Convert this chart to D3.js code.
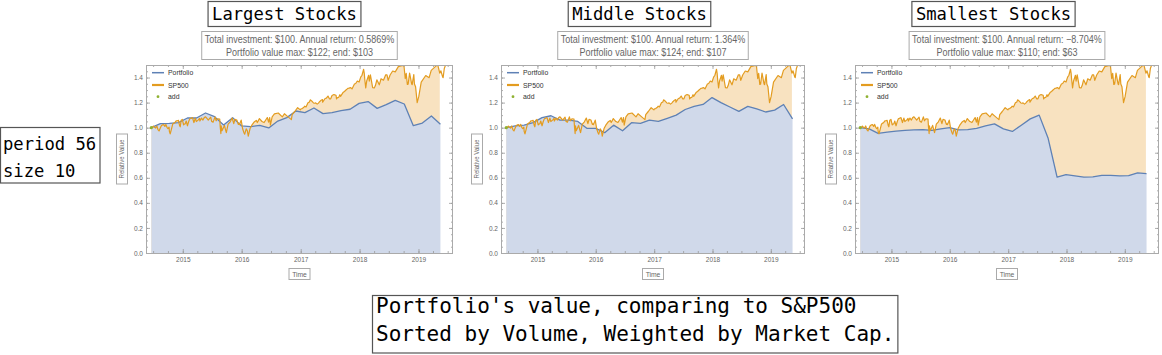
<!DOCTYPE html>
<html><head><meta charset="utf-8">
<script src="https://cdn.jsdelivr.net/npm/d3@7"></script>
<style>body{margin:0;background:#fff;} svg{display:block}</style>
</head><body><svg id="c" width="1162" height="355"></svg>
<script>
const panelTitles = ["Largest Stocks", "Middle Stocks", "Smallest Stocks"];
const subtitleLine1 = ["Total investment: $100. Annual return: 0.5869%", "Total investment: $100. Annual return: 1.364%", "Total investment: $100. Annual return: \u22128.704%"];
const subtitleLine2 = ["Portfolio value max: $122; end: $103", "Portfolio value max: $124; end: $107", "Portfolio value max: $110; end: $63"];
const sideLabel = ["period 56", "size 10"];
const captionLines = ["Portfolio's value, comparing to S&P500", "Sorted by Volume, Weighted by Market Cap."];
const legendLabels = ["Portfolio", "SP500", "add"];
const yTicks = [0, 0.2, 0.4, 0.6, 0.8, 1.0, 1.2, 1.4];
const yearTicks = ["2015", "2016", "2017", "2018", "2019"];

const portfolioDates = ["2014-06-20","2014-08-15","2014-10-10","2014-12-05","2015-01-30","2015-03-27","2015-05-22","2015-07-17","2015-09-11","2015-11-06","2016-01-01","2016-02-26","2016-04-22","2016-06-17","2016-08-12","2016-10-07","2016-12-02","2017-01-27","2017-03-24","2017-05-19","2017-07-14","2017-09-08","2017-11-03","2017-12-29","2018-02-23","2018-04-20","2018-06-15","2018-08-10","2018-10-05","2018-11-30","2019-01-25","2019-03-22","2019-05-17"];
const largestValues = [1.0,1.032,1.035,1.04,1.077,1.077,1.117,1.088,1.022,1.080,1.014,1.008,1.019,0.998,1.053,1.080,1.133,1.120,1.157,1.112,1.120,1.136,1.147,1.194,1.208,1.154,1.184,1.218,1.189,1.016,1.037,1.093,1.027];
const middleValues = [1.0,1.015,1.02,1.04,1.08,1.095,1.06,1.06,1.05,0.995,0.995,0.96,1.02,0.975,1.04,1.035,1.06,1.05,1.075,1.10,1.145,1.17,1.185,1.24,1.20,1.165,1.13,1.17,1.15,1.125,1.14,1.185,1.07];
const smallestValues = [1.0,0.99,0.955,0.965,0.972,0.978,0.983,0.985,0.978,0.99,1.0,0.982,0.985,0.995,1.015,1.03,0.99,0.97,1.02,1.07,1.10,0.915,0.605,0.625,0.615,0.605,0.607,0.62,0.62,0.615,0.617,0.64,0.633];

const spDates = ["2014-06-20","2014-06-27","2014-07-03","2014-07-10","2014-07-17","2014-07-24","2014-07-31","2014-08-07","2014-08-14","2014-08-21","2014-08-29","2014-09-05","2014-09-12","2014-09-18","2014-09-25","2014-10-01","2014-10-08","2014-10-10","2014-10-15","2014-10-22","2014-10-31","2014-11-07","2014-11-13","2014-11-21","2014-11-28","2014-12-05","2014-12-12","2014-12-16","2014-12-22","2014-12-29",
"2015-01-06","2015-01-09","2015-01-16","2015-01-22","2015-01-30","2015-02-06","2015-02-13","2015-02-24","2015-03-02","2015-03-11","2015-03-20","2015-03-26","2015-04-06","2015-04-15","2015-04-17","2015-04-27","2015-05-06","2015-05-15","2015-05-21","2015-06-01","2015-06-08","2015-06-23","2015-06-29","2015-07-08","2015-07-20","2015-07-27","2015-08-05","2015-08-18","2015-08-21","2015-08-25","2015-08-27","2015-09-01","2015-09-16","2015-09-22","2015-09-28","2015-10-09","2015-10-22","2015-11-03","2015-11-13","2015-11-20","2015-12-02","2015-12-11","2015-12-14","2015-12-18","2015-12-29",
"2016-01-07","2016-01-15","2016-01-20","2016-01-29","2016-02-05","2016-02-11","2016-02-22","2016-03-04","2016-03-18","2016-04-01","2016-04-07","2016-04-20","2016-05-06","2016-05-19","2016-06-08","2016-06-16","2016-06-23","2016-06-27","2016-07-08","2016-07-22","2016-08-15","2016-09-09","2016-09-22","2016-10-13","2016-11-04","2016-11-09","2016-11-25","2016-12-13","2016-12-30",
"2017-01-03","2017-01-10","2017-01-19","2017-01-26","2017-02-03","2017-02-15","2017-02-24","2017-03-01","2017-03-10","2017-03-21","2017-03-27","2017-04-04","2017-04-13","2017-04-21","2017-04-28","2017-05-05","2017-05-16","2017-05-17","2017-06-01","2017-06-09","2017-06-19","2017-06-29","2017-07-06","2017-07-14","2017-07-26","2017-08-08","2017-08-11","2017-08-17","2017-08-24","2017-09-01","2017-09-05","2017-09-20","2017-09-29","2017-10-12","2017-10-20","2017-10-27","2017-11-07","2017-11-15","2017-11-30","2017-12-08","2017-12-18","2017-12-29",
"2018-01-08","2018-01-16","2018-01-26","2018-01-30","2018-02-02","2018-02-05","2018-02-08","2018-02-14","2018-02-26","2018-03-02","2018-03-09","2018-03-23","2018-04-02","2018-04-09","2018-04-18","2018-05-03","2018-05-14","2018-05-29","2018-06-12","2018-06-20","2018-06-27","2018-07-09","2018-07-25","2018-08-10","2018-08-29","2018-09-20","2018-10-03","2018-10-11","2018-10-17","2018-10-24","2018-10-29","2018-11-07","2018-11-20","2018-11-23","2018-12-03","2018-12-07","2018-12-14","2018-12-24",
"2019-01-03","2019-01-18","2019-02-15","2019-03-08","2019-03-21","2019-04-12","2019-04-30","2019-05-13","2019-05-20","2019-05-31","2019-06-03","2019-06-10","2019-06-20","2019-06-28"];
const spValues = [1.000,1.002,1.013,1.003,0.997,1.014,0.985,0.974,0.995,1.016,1.023,1.024,1.010,1.026,1.003,0.993,1.004,0.970,0.950,0.984,1.030,1.036,1.040,1.054,1.055,1.059,1.018,1.007,1.060,1.066,
1.022,1.028,1.030,1.053,1.015,1.047,1.070,1.077,1.080,1.041,1.076,1.049,1.060,1.074,1.053,1.076,1.061,1.082,1.087,1.072,1.061,1.084,1.050,1.044,1.086,1.055,1.071,1.069,1.007,0.953,1.014,0.976,1.018,0.988,0.960,1.028,1.047,1.077,1.032,1.066,1.061,1.026,1.031,1.025,1.060,
0.991,0.960,0.948,0.990,0.977,0.933,0.993,1.020,1.045,1.058,1.041,1.072,1.049,1.041,1.081,1.044,1.081,1.021,1.087,1.110,1.117,1.086,1.111,1.088,1.064,1.104,1.129,1.159,1.142,
1.151,1.152,1.160,1.171,1.165,1.198,1.205,1.222,1.213,1.197,1.195,1.198,1.188,1.196,1.207,1.216,1.224,1.203,1.233,1.235,1.252,1.229,1.230,1.256,1.264,1.259,1.230,1.240,1.241,1.263,1.250,1.280,1.289,1.304,1.314,1.315,1.320,1.309,1.348,1.352,1.372,1.364,
1.403,1.418,1.466,1.434,1.386,1.352,1.317,1.372,1.418,1.372,1.421,1.320,1.317,1.336,1.382,1.342,1.390,1.379,1.422,1.422,1.377,1.420,1.452,1.445,1.487,1.495,1.494,1.392,1.433,1.345,1.347,1.436,1.347,1.343,1.423,1.348,1.327,1.199,
1.249,1.363,1.416,1.399,1.457,1.483,1.503,1.435,1.453,1.404,1.400,1.472,1.507,1.501];

const parse = d3.timeParse("%Y-%m-%d");
const pDates = portfolioDates.map(parse);
const sDates = spDates.map(parse);
const series = [largestValues, middleValues, smallestValues];
const frames = [{x: 146, w: 307}, {x: 501, w: 304}, {x: 855, w: 304}];
const plotTop = 65, plotBottom = 253;
const svg = d3.select("#c");
const SANS = "'Liberation Sans', Arial, sans-serif";
const MONO = "'DejaVu Sans Mono', 'Liberation Mono', monospace";

function condText(g, x, y, str, size, anchor, color, sx) {
  return g.append("text")
    .attr("transform", `translate(${x},${y}) scale(${sx || 0.86},1)`)
    .attr("text-anchor", anchor).attr("font-family", SANS)
    .attr("font-size", size).attr("fill", color).text(str);
}

frames.forEach((f, i) => {
  const x = d3.scaleTime().domain([parse("2014-05-18"), parse("2019-08-03")]).range([f.x, f.x + f.w]);
  const y = d3.scaleLinear().domain([0, 1.5]).range([plotBottom, plotTop]);
  const g = svg.append("g");
  const clipId = "clip" + i;
  svg.append("clipPath").attr("id", clipId).append("rect")
    .attr("x", f.x).attr("y", plotTop).attr("width", f.w).attr("height", plotBottom - plotTop);
  const pg = g.append("g").attr("clip-path", `url(#${clipId})`);

  const lastP = pDates[pDates.length - 1];
  const spAll = sDates.map((d, k) => [d, spValues[k]]);
  const spFill = spAll.filter(p => p[0] <= lastP);
  const pPts = pDates.map((d, k) => [d, series[i][k]]);
  const area = d3.area().x(p => x(p[0])).y0(y(0)).y1(p => y(p[1]));
  const line = d3.line().x(p => x(p[0])).y(p => y(p[1]));

  pg.append("path").datum(spFill).attr("d", area).attr("fill", "#f8e2c0");
  pg.append("path").datum(pPts).attr("d", area).attr("fill", "#d0d9ea");
  pg.append("path").datum(pPts).attr("d", line).attr("fill", "none").attr("stroke", "#5e81b5").attr("stroke-width", 1.3).attr("stroke-linejoin", "round");
  pg.append("path").datum(spAll).attr("d", line).attr("fill", "none").attr("stroke", "#e39c20").attr("stroke-width", 1.2).attr("stroke-linejoin", "round");
  pg.append("circle").attr("cx", x(pDates[0])).attr("cy", y(series[i][0])).attr("r", 1.6).attr("fill", "#8fb131");

  // axes
  const minorY = d3.range(0, 1.501, 0.05);
  const yearDates = yearTicks.map(t => parse(t + "-01-01"));
  const quarterDates = d3.timeMonth.every(3).range(parse("2014-07-01"), parse("2019-08-01"));
  const styleAxis = sel => {
    sel.select(".domain").remove();
    sel.selectAll("line").attr("stroke", "#999").attr("stroke-width", 0.8);
    sel.selectAll("text").attr("font-family", SANS).attr("font-size", 6.5).attr("fill", "#666");
  };
  g.append("g").attr("transform", `translate(${f.x},0)`).call(d3.axisLeft(y).tickValues(minorY).tickSize(-2).tickFormat("")).call(styleAxis);
  g.append("g").attr("transform", `translate(${f.x},0)`).call(d3.axisLeft(y).tickValues(yTicks).tickSize(-4).tickPadding(3).tickFormat(d3.format(".1f"))).call(styleAxis);
  g.append("g").attr("transform", `translate(${f.x + f.w},0)`).call(d3.axisRight(y).tickValues(minorY).tickSize(-2).tickFormat("")).call(styleAxis);
  g.append("g").attr("transform", `translate(${f.x + f.w},0)`).call(d3.axisRight(y).tickValues(yTicks).tickSize(-4).tickFormat("")).call(styleAxis);
  g.append("g").attr("transform", `translate(0,${plotBottom})`).call(d3.axisBottom(x).tickValues(quarterDates).tickSize(-2).tickFormat("")).call(styleAxis);
  g.append("g").attr("transform", `translate(0,${plotBottom})`).call(d3.axisBottom(x).tickValues(yearDates).tickSize(-4).tickPadding(4).tickFormat(d3.timeFormat("%Y"))).call(styleAxis);
  g.append("g").attr("transform", `translate(0,${plotTop})`).call(d3.axisTop(x).tickValues(quarterDates).tickSize(-2).tickFormat("")).call(styleAxis);
  g.append("g").attr("transform", `translate(0,${plotTop})`).call(d3.axisTop(x).tickValues(yearDates).tickSize(-4).tickFormat("")).call(styleAxis);

  g.append("rect").attr("x", f.x + 0.5).attr("y", plotTop + 0.5).attr("width", f.w - 1).attr("height", plotBottom - plotTop)
    .attr("fill", "none").attr("stroke", "#aaa").attr("stroke-width", 1);

  // legend
  const lx = f.x + 6;
  const ly = [72.7, 85, 96.7];
  g.append("line").attr("x1", lx).attr("x2", lx + 12).attr("y1", ly[0]).attr("y2", ly[0]).attr("stroke", "#5e81b5").attr("stroke-width", 1.5);
  g.append("line").attr("x1", lx).attr("x2", lx + 12).attr("y1", ly[1]).attr("y2", ly[1]).attr("stroke", "#e39c20").attr("stroke-width", 2.2);
  g.append("circle").attr("cx", lx + 6).attr("cy", ly[2]).attr("r", 1.4).attr("fill", "#8fb131");
  legendLabels.forEach((lab, k) => condText(g, lx + 16, ly[k] + 2.6, lab, 8, "start", "#333"));

  // axis labels
  const cx = f.x + f.w / 2;
  g.append("rect").attr("x", cx - 10.5).attr("y", 268.5).attr("width", 21).attr("height", 11).attr("fill", "#fff").attr("stroke", "#aaa");
  condText(g, cx, 276.5, "Time", 7.5, "middle", "#666", 0.9);
  const ylx = f.x - 24, yly = (plotTop + plotBottom) / 2;
  g.append("rect").attr("x", ylx - 5.5).attr("y", yly - 25).attr("width", 11).attr("height", 50).attr("fill", "#fff").attr("stroke", "#aaa");
  g.append("text").attr("transform", `translate(${ylx + 2.3},${yly}) rotate(-90) scale(0.9,1)`).attr("text-anchor", "middle")
    .attr("font-family", SANS).attr("font-size", 6.8).attr("fill", "#666").text("Relative Value");

  // subtitle box
  const sgp = g.append("g");
  const srect = sgp.append("rect");
  const t1 = condText(sgp, cx, 43, subtitleLine1[i], 10.5, "middle", "#666");
  const t2 = condText(sgp, cx, 56, subtitleLine2[i], 10.5, "middle", "#666");
  const sw = Math.max(t1.node().getComputedTextLength(), t2.node().getComputedTextLength()) * 0.86 + 6;
  srect.attr("x", cx - sw / 2).attr("y", 31.5).attr("width", sw).attr("height", 28).attr("fill", "#fff").attr("stroke", "#aaa");

  // title box
  const tcx = f.x + 138.5;
  const tgp = g.append("g");
  const trect = tgp.append("rect");
  const tt = tgp.append("text").attr("x", tcx).attr("y", 20).attr("text-anchor", "middle").attr("font-family", MONO)
    .attr("font-size", 17.2).attr("fill", "#000").text(panelTitles[i]);
  const tw = tt.node().getComputedTextLength() + 8;
  trect.attr("x", tcx - tw / 2).attr("y", 1.5).attr("width", tw).attr("height", 25).attr("fill", "#fff").attr("stroke", "#555").attr("stroke-width", 1.2);
});

// side label
const sg = svg.append("g");
sg.append("rect").attr("x", 0.5).attr("y", 127.5).attr("width", 99.5).attr("height", 55.5).attr("fill", "#fff").attr("stroke", "#555").attr("stroke-width", 1.2);
sideLabel.forEach((s, k) => sg.append("text").attr("x", 3).attr("y", [150, 177][k]).attr("font-family", MONO).attr("font-size", 17.2).attr("fill", "#000").text(s));

// caption
const cg = svg.append("g");
const crect = cg.append("rect");
const ctexts = captionLines.map((s, k) => cg.append("text").attr("x", 376).attr("y", [313, 341][k]).attr("font-family", MONO).attr("font-size", 21).attr("fill", "#000").text(s));
const cw = d3.max(ctexts, t => t.node().getComputedTextLength()) + 7;
crect.attr("x", 372.5).attr("y", 295.5).attr("width", cw).attr("height", 57.5).attr("fill", "#fff").attr("stroke", "#555").attr("stroke-width", 1.2);
</script>
</body></html>
